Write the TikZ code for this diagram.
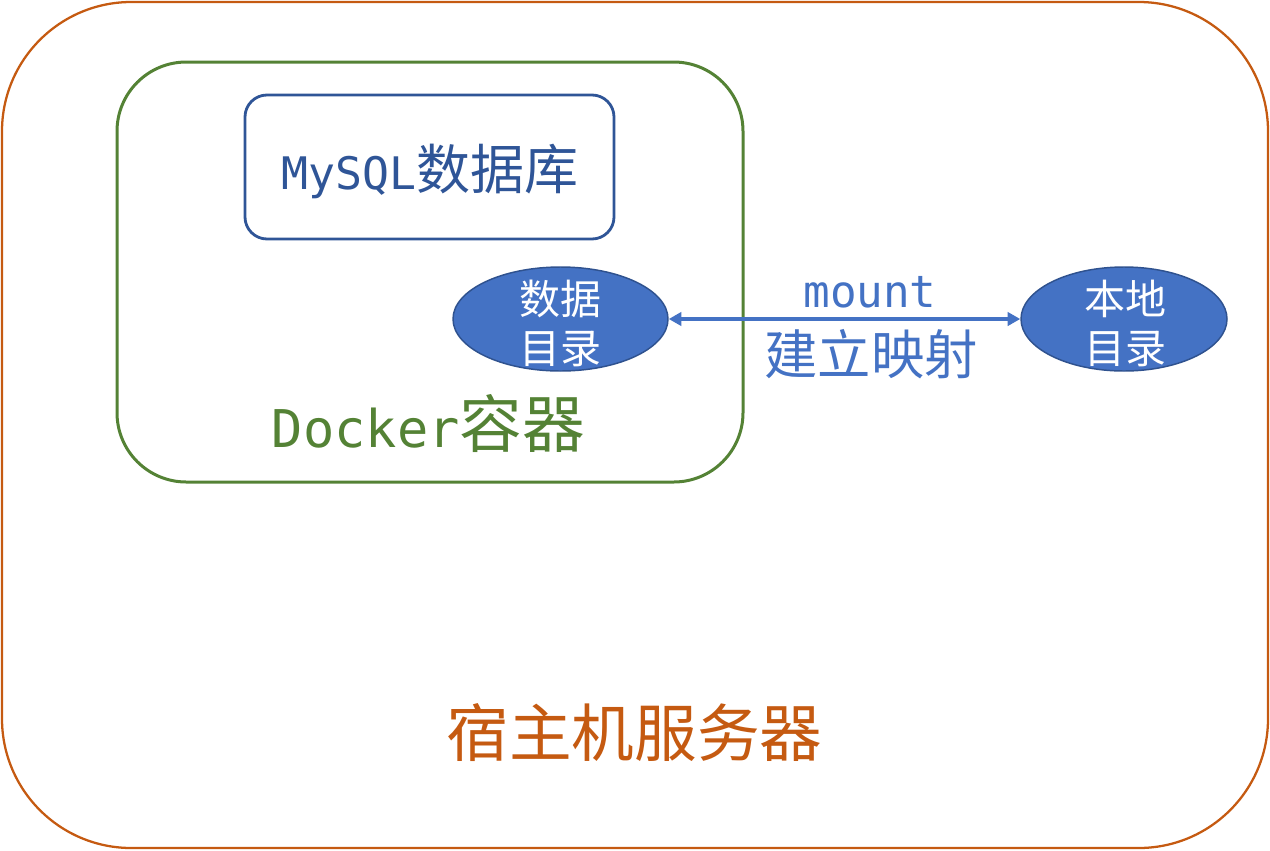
\documentclass[tikz,border=0pt]{standalone}
\usepackage{fontspec}
\setmainfont{Noto Sans CJK SC}
\newfontfamily\cjk{Noto Sans CJK SC}
\newfontfamily\lat[Scale=0.83]{DejaVu Sans Mono}
\usetikzlibrary{shapes.geometric,arrows.meta}
\definecolor{hostc}{HTML}{C55A11}
\definecolor{dockc}{HTML}{548235}
\definecolor{dbc}{HTML}{2F5597}
\definecolor{elfill}{HTML}{4472C4}
\definecolor{elline}{HTML}{2F528F}
\tikzset{
  boxbase/.style={rectangle, inner sep=0pt, draw},
  hostbox/.style={boxbase, draw=hostc, line width=1.7pt, rounded corners=97pt,
    minimum width=949.5pt, minimum height=634.5pt},
  dockbox/.style={boxbase, draw=dockc, line width=2.25pt, rounded corners=52pt,
    minimum width=469.5pt, minimum height=315pt},
  dbbox/.style={boxbase, draw=dbc, line width=2.1pt, rounded corners=16.5pt,
    minimum width=276.75pt, minimum height=108pt},
  direll/.style={ellipse, inner sep=0pt, draw=elline, fill=elfill, line width=1.1pt,
    minimum height=78pt},
  txt/.style={inner sep=0pt, anchor=base},
  maparrow/.style={draw=elfill, line width=2.4pt, {Triangle[length=9.5pt,width=10pt]}-{Triangle[length=9.5pt,width=10pt]}}
}
\begin{document}
\begin{tikzpicture}[x=0.75pt,y=-0.75pt]
\useasboundingbox (0,0) rectangle (1270,850);
\node[hostbox] (host) at (635,425) {};
\node[dockbox] (dock) at (430,272) {};
\node[dbbox] (db) at (429.5,167) {};
\node[txt, text=dbc, font=\fontsize{40.5pt}{48pt}\selectfont] (dbt) at (430,189) {{\lat MySQL}数据库};
\node[direll, minimum width=161.25pt] (e1) at (560.5,319) {};
\node[direll, minimum width=154.5pt] (e2) at (1124,319) {};
\node[txt, text=white, font=\fontsize{30.75pt}{36pt}\selectfont] (e1a) at (560,314) {数据};
\node[txt, text=white, font=\fontsize{30.75pt}{36pt}\selectfont] (e1b) at (560,363) {目录};
\node[txt, text=white, font=\fontsize{30.75pt}{36pt}\selectfont] (e2a) at (1125,314) {本地};
\node[txt, text=white, font=\fontsize{30.75pt}{36pt}\selectfont] (e2b) at (1125,363) {目录};
\draw[maparrow] (e1.east) -- (e2.west);
\node[txt, text=elfill, font=\fontsize{40pt}{48pt}\selectfont] (mnt) at (870,307) {\lat mount};
\node[txt, text=elfill, font=\fontsize{40pt}{48pt}\selectfont] (map) at (871,374) {建立映射};
\node[txt, text=dockc, font=\fontsize{47pt}{56pt}\selectfont] (dockt) at (428.5,447) {{\lat Docker}容器};
\node[txt, text=hostc, font=\fontsize{47pt}{56pt}\selectfont] (hostt) at (634.5,756) {宿主机服务器};
\end{tikzpicture}
\end{document}
